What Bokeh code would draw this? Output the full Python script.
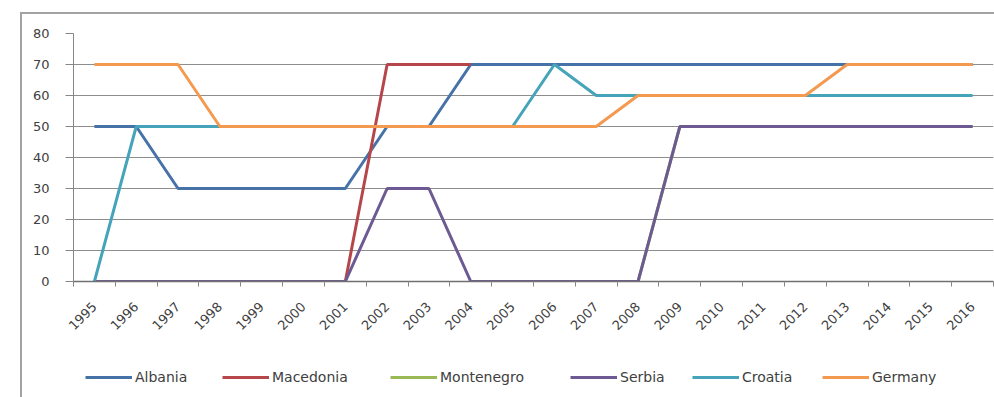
from math import pi
from bokeh.plotting import figure
from bokeh.layouts import column
from bokeh.models import FixedTicker, Legend, LegendItem, Range1d
from bokeh.embed import file_html
from bokeh.resources import INLINE

nan = float("nan")

years = list(range(1995, 2017))
albania = [50, 50, 30, 30, 30, 30, 30, 50, 50, 70, 70, 70, 70, 70, 70, 70, 70, 70, 70, 70, 70, 70]
macedonia = [0, 0, 0, 0, 0, 0, 0, 70, 70, 70, nan, nan, nan, nan, nan, nan, nan, nan, nan, nan, nan, nan]
montenegro = [nan, nan, nan, nan, nan, nan, nan, nan, nan, nan, nan, 0, 0, 0, 50, 50, 50, 50, 50, 50, 50, 50]
serbia = [0, 0, 0, 0, 0, 0, 0, 30, 30, 0, 0, 0, 0, 0, 50, 50, 50, 50, 50, 50, 50, 50]
croatia = [0, 50, 50, 50, 50, 50, 50, 50, 50, 50, 50, 70, 60, 60, 60, 60, 60, 60, 60, 60, 60, 60]
germany = [70, 70, 70, 50, 50, 50, 50, 50, 50, 50, 50, 50, 50, 60, 60, 60, 60, 60, 70, 70, 70, 70]
y_ticks = [0, 10, 20, 30, 40, 50, 60, 70, 80]

series = [
    ("Albania", albania, "#4672a8"),
    ("Macedonia", macedonia, "#b5474b"),
    ("Montenegro", montenegro, "#98b954"),
    ("Serbia", serbia, "#6e5a92"),
    ("Croatia", croatia, "#45a3ba"),
    ("Germany", germany, "#f39a50"),
]

FONT = "DejaVu Sans"

# main chart
p = figure(width=972, height=329, output_backend="svg", toolbar_location=None,
           x_range=Range1d(years[0] - 0.5, years[-1] + 0.5),
           y_range=Range1d(0, 80),
           min_border_left=51, min_border_right=1, min_border_top=19, min_border_bottom=62)
p.outline_line_color = None
p.background_fill_color = "white"
p.border_fill_color = "white"

p.xgrid.grid_line_color = None
p.ygrid.grid_line_color = "#8e8e8e"
p.ygrid.grid_line_width = 1
p.ygrid.ticker = FixedTicker(ticks=y_ticks)

p.yaxis.ticker = FixedTicker(ticks=y_ticks)
p.yaxis.axis_line_color = "#868686"
p.yaxis.major_tick_line_color = "#868686"
p.yaxis.major_tick_out = 8
p.yaxis.major_tick_in = 0
p.yaxis.minor_tick_line_color = None
p.yaxis.major_label_standoff = 16
p.yaxis.major_label_text_font = FONT
p.yaxis.major_label_text_font_size = "13px"
p.yaxis.major_label_text_color = "#404040"

p.xaxis.ticker = FixedTicker(ticks=years, minor_ticks=[y - 0.5 for y in years] + [years[-1] + 0.5])
p.xaxis.axis_line_color = "#707070"
p.xaxis.axis_line_width = 1.5
p.xaxis.major_tick_line_color = None
p.xaxis.major_tick_out = 0
p.xaxis.minor_tick_line_color = "#868686"
p.xaxis.minor_tick_out = 5
p.xaxis.minor_tick_in = 0
p.xaxis.major_label_orientation = pi / 4
p.xaxis.major_label_standoff = 18
p.xaxis.major_label_text_font = FONT
p.xaxis.major_label_text_font_size = "13px"
p.xaxis.major_label_text_color = "#404040"

for name, vals, color in series:
    p.line(years, vals, line_color=color, line_width=3)

# legend strip (series drawn out of view; only the legend shows)
p2 = figure(width=972, height=54, output_backend="svg", toolbar_location=None,
            x_range=Range1d(years[0] - 0.5, years[-1] + 0.5), y_range=Range1d(1000, 1001),
            x_axis_type=None, y_axis_type=None,
            min_border_left=0, min_border_right=0, min_border_top=0, min_border_bottom=0)
p2.outline_line_color = None
p2.xgrid.grid_line_color = None
p2.ygrid.grid_line_color = None
p2.background_fill_color = "white"
p2.border_fill_color = "white"

legend_x = [12, 149, 317, 497, 619, 749]
for (name, vals, color), lx in zip(series, legend_x):
    r = p2.line(years, vals, line_color=color, line_width=3)
    lg = Legend(items=[LegendItem(label=name, renderers=[r])],
                location=(lx, 10), orientation="horizontal",
                glyph_width=47, glyph_height=20, label_standoff=3,
                padding=0, margin=0, spacing=0,
                border_line_color=None, background_fill_alpha=0,
                label_text_font=FONT, label_text_font_size="14px",
                label_text_color="#404040")
    p2.add_layout(lg, "center")

layout = column(p, p2, spacing=0)
layout.margin = (12, 0, 0, 20)
layout.styles = {"border-top": "2px solid #a3a3a3", "border-left": "2px solid #a3a3a3"}

open("out.html", "w").write(file_html(layout, INLINE))
